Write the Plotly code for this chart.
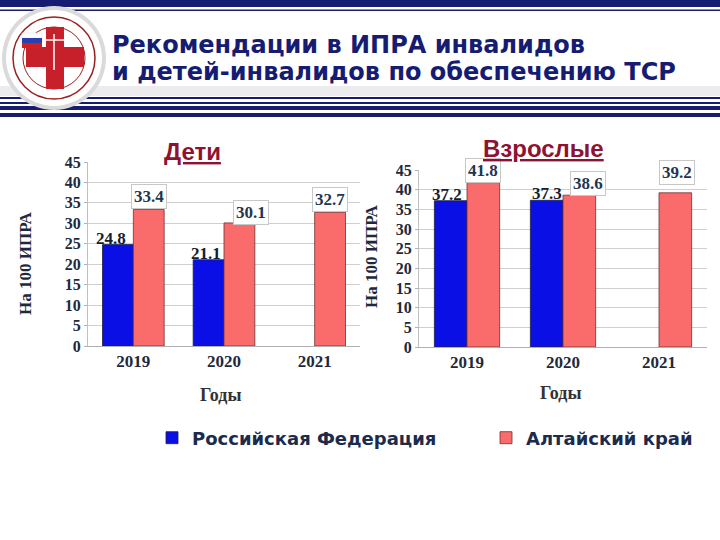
import plotly.graph_objects as go

# ---------------- data ----------------
years = ["2019", "2020", "2021"]
children_rf = [24.8, 21.1, None]
children_ak = [33.4, 30.1, 32.7]
adults_rf = [37.2, 37.3, None]
adults_ak = [41.8, 38.6, 39.2]
y_tick_vals = [0, 5, 10, 15, 20, 25, 30, 35, 40, 45]
series_names = ["Российская Федерация", "Алтайский край"]
panel_titles = ["Дети", "Взрослые"]
header_lines = ["Рекомендации в ИПРА инвалидов", "и детей-инвалидов по обеспечению ТСР"]
y_title = "На 100 ИПРА"
x_title = "Годы"

W, H = 720, 540
BLUE = "#0A0FE6"
RED = "#FA6B6B"
NAVY = "#161C72"
DARKRED = "#8E1232"
TXT = "#1E2A3C"
SERIF = "Liberation Serif"
SANS = "Liberation Sans"

xpos = list(range(len(years)))


def px(x):
    return x / W


def py(y):
    return 1 - y / H


fig = go.Figure()

panels = [
    dict(rf=children_rf, ak=children_ak, xa="x", ya="y", show=True),
    dict(rf=adults_rf, ak=adults_ak, xa="x2", ya="y2", show=False),
]
for p in panels:
    fig.add_trace(go.Bar(x=xpos, y=p["rf"], name=series_names[0], marker_color=BLUE,
                         marker_line=dict(color="#202040", width=0.8),
                         xaxis=p["xa"], yaxis=p["ya"], showlegend=p["show"], legend="legend"))
    fig.add_trace(go.Bar(x=xpos, y=p["ak"], name=series_names[1], marker_color=RED,
                         marker_line=dict(color="#703030", width=0.8),
                         xaxis=p["xa"], yaxis=p["ya"], showlegend=p["show"], legend="legend2"))

axis_common = dict(type="linear", range=[-0.5, len(years) - 0.5], tickvals=xpos, ticktext=years,
                   showgrid=False, linecolor="#B0B0B0", showline=True, zeroline=False,
                   tickfont=dict(family=SERIF, size=17, color=TXT, weight="bold"),
                   ticks="", fixedrange=True, automargin=False, tickangle=0)
yaxis_common = dict(range=[0, 45], tickvals=y_tick_vals, showgrid=True, gridcolor="#CFCFCF",
                    gridwidth=1, showline=True, linecolor="#C0C0C0", zeroline=False,
                    ticks="outside", ticklen=3, tickcolor="#B0B0B0",
                    tickfont=dict(family=SERIF, size=16, color=TXT, weight="bold"),
                    fixedrange=True, automargin=False)

legend_font = dict(family="DejaVu Sans", size=18, color="#1C2B4B", weight="bold")
fig.update_layout(
    width=W, height=H, autosize=False,
    margin=dict(l=0, r=0, t=0, b=0, pad=0, autoexpand=False),
    paper_bgcolor="white", plot_bgcolor="white",
    barmode="group", bargap=0.32, bargroupgap=0,
    xaxis=dict(domain=[px(88), px(360)], anchor="y", **axis_common),
    yaxis=dict(domain=[py(346), py(162)], anchor="x", **yaxis_common),
    xaxis2=dict(domain=[px(419), px(707)], anchor="y2", **axis_common),
    yaxis2=dict(domain=[py(347), py(170)], anchor="x2", **yaxis_common),
    legend=dict(orientation="h", x=px(152), xanchor="left", y=py(438), yanchor="middle",
                font=legend_font, bgcolor="rgba(0,0,0,0)"),
    legend2=dict(orientation="h", x=px(486), xanchor="left", y=py(438), yanchor="middle",
                 font=legend_font, bgcolor="rgba(0,0,0,0)"),
    showlegend=True,
)

annotations = []
half = 15.5
blue_dx = [[-7, -3, 0], [-5, -1, 0]]
red_dx = [[0, 11, 0], [0, 9, 2]]
red_dy = [[0, -2, 0], [0, -1, 8]]
for pi, p in enumerate(panels):
    for i in xpos:
        v = p["rf"][i]
        if v is not None:
            annotations.append(dict(x=i, y=v, xref=p["xa"], yref=p["ya"], text=f"{v:.1f}",
                                    showarrow=False, xshift=-half + blue_dx[pi][i], yshift=-5,
                                    yanchor="bottom",
                                    font=dict(family=SERIF, size=17, color="#141E2E", weight="bold")))
        v = p["ak"][i]
        if v is not None:
            annotations.append(dict(x=i, y=v, xref=p["xa"], yref=p["ya"], text=f"{v:.1f}",
                                    showarrow=False, xshift=half + red_dx[pi][i], yshift=red_dy[pi][i],
                                    yanchor="bottom", bgcolor="white", bordercolor="#C8C8C8",
                                    borderwidth=1, borderpad=2,
                                    font=dict(family=SERIF, size=17, color="#1F3550", weight="bold")))

for t, cx, cy in zip(panel_titles, [192, 543], [151, 148]):
    annotations.append(dict(x=px(cx), y=py(cy), xref="paper", yref="paper", text=f"<u>{t}</u>",
                            showarrow=False, xanchor="center", yanchor="middle",
                            font=dict(family=SANS, size=24, color=DARKRED, weight="bold")))
for cx, cy in [(25, 264), (371, 256)]:
    annotations.append(dict(x=px(cx), y=py(cy), xref="paper", yref="paper", text=y_title,
                            showarrow=False, textangle=-90, xanchor="center", yanchor="middle",
                            font=dict(family=SERIF, size=17, color=TXT, weight="bold")))
for cx, cy in [(221, 395), (561, 393)]:
    annotations.append(dict(x=px(cx), y=py(cy), xref="paper", yref="paper", text=x_title,
                            showarrow=False, xanchor="center", yanchor="middle",
                            font=dict(family=SERIF, size=18, color="#333333", weight="bold")))
for line, cy in zip(header_lines, [45, 72]):
    annotations.append(dict(x=px(110), y=py(cy), xref="paper", yref="paper", text=line,
                            showarrow=False, xanchor="left", yanchor="middle",
                            font=dict(family="DejaVu Sans", size=24, color=NAVY, weight="bold")))

fig.update_layout(annotations=annotations)

# ---------------- header decoration ----------------
shapes = []


def rect(x0, y0, x1, y1, color, **kw):
    d = dict(type="rect", xref="paper", yref="paper", x0=px(x0), x1=px(x1), y0=py(y1), y1=py(y0),
             fillcolor=color, line=dict(width=0), layer="above")
    d.update(kw)
    shapes.append(d)


def circle(cx, cy, r, fill, line_color=None, lw=0):
    shapes.append(dict(type="circle", xref="paper", yref="paper",
                       x0=px(cx - r), x1=px(cx + r), y0=py(cy + r), y1=py(cy - r),
                       fillcolor=fill, line=dict(color=line_color or fill, width=lw), layer="above"))


rect(0, 0, 720, 7, NAVY)
rect(0, 9.5, 720, 11, NAVY)
rect(0, 86, 720, 96, "rgba(200,200,210,0.35)")
for y0, y1 in [(97, 99), (102, 104), (106, 110), (113, 117)]:
    rect(0, y0, 720, y1, NAVY)

circle(54, 58, 52, "#DADADA")
circle(54, 58, 48, "white")
circle(54, 58, 41, "white", "#9A2020", 1.5)
circle(54, 58, 31, "white", "#9A2020", 1)
rect(46, 27, 64, 89, "#C8202A")
rect(26, 47, 84, 67, "#C8202A")
rect(22, 33, 42, 38, "white", line=dict(color="#ddd", width=0.5))
rect(22, 38, 42, 43, "#2A3FB0")
rect(22, 43, 42, 48, "#D02020")
shapes.append(dict(type="line", xref="paper", yref="paper", x0=px(54), x1=px(54), y0=py(70), y1=py(34),
                   line=dict(color="white", width=1.5), layer="above"))
shapes.append(dict(type="line", xref="paper", yref="paper", x0=px(44), x1=px(64), y0=py(40), y1=py(40),
                   line=dict(color="white", width=1.5), layer="above"))

fig.update_layout(shapes=shapes)

fig.write_html("out.html", config={"displayModeBar": False},
               post_script="document.body.style.margin='0';document.body.style.padding='0';")
